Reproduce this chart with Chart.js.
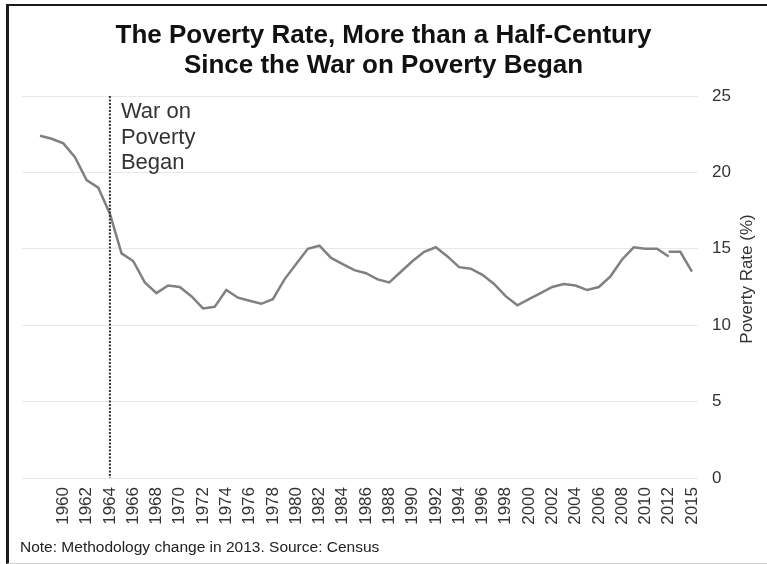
<!DOCTYPE html>
<html lang="en">
<head>
  <meta charset="UTF-8" />
  <title>The Poverty Rate</title>
  <script src="https://cdn.jsdelivr.net/npm/chart.js"></script>
  <style>
    body {
      margin: 0;
      background: #fff;
      font-family: "Liberation Sans", Arial, sans-serif;
      width: 767px;
      height: 564px;
      overflow: hidden;
      position: relative;
    }
    .frame {
      position: absolute;
      left: 6px;
      top: 4px;
      width: 770px;
      height: 557px;
      border-left: 3px solid #1a1a1a;
      border-top: 2px solid #1a1a1a;
      border-bottom: 1px solid #cfcfcf;
    }
    h2 {
      position: absolute;
      top: 19px;
      left: 0;
      width: 767px;
      margin: 0;
      text-align: center;
      font-size: 26px;
      line-height: 30px;
      font-weight: bold;
      color: #111;
    }
    .note {
      position: absolute;
      left: 20px;
      top: 538px;
      font-size: 15.5px;
      line-height: 18px;
      color: #222;
    }
    canvas {
      position: absolute;
      left: 0;
      top: 0;
    }
  </style>
</head>
<body>
  <div class="frame"></div>
  <canvas id="povertyChart" width="767" height="564"></canvas>
  <h2>The Poverty Rate, More than a Half-Century<br>Since the War on Poverty Began</h2>
  <div class="note">Note: Methodology change in 2013. Source: Census</div>

  <script>
    // old methodology, 1959-2013
    const years = [1959, 1960, 1961, 1962, 1963, 1964, 1965, 1966, 1967, 1968,
      1969, 1970, 1971, 1972, 1973, 1974, 1975, 1976, 1977, 1978,
      1979, 1980, 1981, 1982, 1983, 1984, 1985, 1986, 1987, 1988,
      1989, 1990, 1991, 1992, 1993, 1994, 1995, 1996, 1997, 1998,
      1999, 2000, 2001, 2002, 2003, 2004, 2005, 2006, 2007, 2008,
      2009, 2010, 2011, 2012, 2013];
    const povertyRate = [22.4, 22.2, 21.9, 21.0, 19.5, 19.0, 17.3, 14.7, 14.2, 12.8,
      12.1, 12.6, 12.5, 11.9, 11.1, 11.2, 12.3, 11.8, 11.6, 11.4,
      11.7, 13.0, 14.0, 15.0, 15.2, 14.4, 14.0, 13.6, 13.4, 13.0,
      12.8, 13.5, 14.2, 14.8, 15.1, 14.5, 13.8, 13.7, 13.3, 12.7,
      11.9, 11.3, 11.7, 12.1, 12.5, 12.7, 12.6, 12.3, 12.5, 13.2,
      14.3, 15.1, 15.0, 15.0, 14.5];

    // new methodology from 2013
    const newYears = [2013, 2014, 2015];
    const newPovertyRate = [14.8, 14.8, 13.5];

    // where the year labels sit on the axis, and what they say
    const tickYears = [1961, 1963, 1965, 1967, 1969, 1971, 1973, 1975, 1977, 1979,
      1981, 1983, 1985, 1987, 1989, 1991, 1993, 1995, 1997, 1999,
      2001, 2003, 2005, 2007, 2009, 2011, 2013, 2015];
    const tickLabels = ['1960', '1962', '1964', '1966', '1968', '1970', '1972', '1974', '1976', '1978',
      '1980', '1982', '1984', '1986', '1988', '1990', '1992', '1994', '1996', '1998',
      '2000', '2002', '2004', '2006', '2008', '2010', '2012', '2015'];
    const yTicks = [0, 5, 10, 15, 20, 25];

    const markerLabel = '1964';
    const markerText = ['War on', 'Poverty', 'Began'];
    const yTitle = 'Poverty Rate (%)';

    const fontFamily = '"Liberation Sans", Arial, sans-serif';
    const lineColor = '#808080';

    const toPoints = (xs, ys) => xs.map((x, i) => ({ x: x, y: ys[i] }));

    // dashed marker, its note and the right-hand axis title
    const extras = {
      id: 'extras',
      afterDatasetsDraw(chart) {
        const { ctx, chartArea, scales } = chart;
        const xPos = scales.x.getPixelForValue(tickYears[tickLabels.indexOf(markerLabel)]);
        const top = scales.y.getPixelForValue(yTicks[yTicks.length - 1]);
        const bottom = scales.y.getPixelForValue(0);

        ctx.save();
        ctx.strokeStyle = '#333';
        ctx.lineWidth = 2;
        ctx.setLineDash([2, 1.5]);
        ctx.beginPath();
        ctx.moveTo(xPos, top);
        ctx.lineTo(xPos, bottom);
        ctx.stroke();
        ctx.setLineDash([]);

        ctx.fillStyle = '#333';
        ctx.font = '22px ' + fontFamily;
        ctx.textAlign = 'left';
        ctx.textBaseline = 'middle';
        markerText.forEach((t, i) => ctx.fillText(t, xPos + 11, chartArea.top + 16 + i * 25.5));

        ctx.font = '17px ' + fontFamily;
        ctx.textAlign = 'center';
        ctx.translate(chart.width - 20, (chartArea.top + chartArea.bottom) / 2 - 8);
        ctx.rotate(-Math.PI / 2);
        ctx.fillText(yTitle, 0, 0);
        ctx.restore();
      }
    };

    new Chart(document.getElementById('povertyChart'), {
      type: 'line',
      data: {
        datasets: [
          {
            data: toPoints(years, povertyRate),
            borderColor: lineColor,
            borderWidth: 2.5,
            pointRadius: 0,
            tension: 0
          },
          {
            data: toPoints(newYears, newPovertyRate),
            borderColor: lineColor,
            borderWidth: 2.5,
            pointRadius: 0,
            tension: 0
          }
        ]
      },
      options: {
        responsive: false,
        animation: false,
        layout: { padding: { top: 96, left: 22, right: 0, bottom: 26 } },
        plugins: {
          legend: { display: false },
          tooltip: { enabled: false }
        },
        scales: {
          x: {
            type: 'linear',
            min: 1957.45,
            max: 2015.52,
            afterBuildTicks: s => { s.ticks = tickYears.map(v => ({ value: v })); },
            afterFit: s => { s.height = 60; },
            grid: { display: false, drawTicks: false },
            border: { display: false },
            ticks: {
              autoSkip: false,
              minRotation: 90,
              maxRotation: 90,
              padding: 9,
              color: '#333',
              font: { family: fontFamily, size: 17 },
              callback: (v, i) => tickLabels[i]
            }
          },
          y: {
            position: 'right',
            min: 0,
            max: 25,
            afterBuildTicks: s => { s.ticks = yTicks.map(v => ({ value: v })); },
            afterFit: s => { s.width = 69; },
            grid: { color: '#e8e8e8', drawTicks: false },
            border: { display: false },
            ticks: {
              padding: 14,
              color: '#333',
              font: { family: fontFamily, size: 17 }
            }
          }
        }
      },
      plugins: [extras]
    });
  </script>
</body>
</html>
